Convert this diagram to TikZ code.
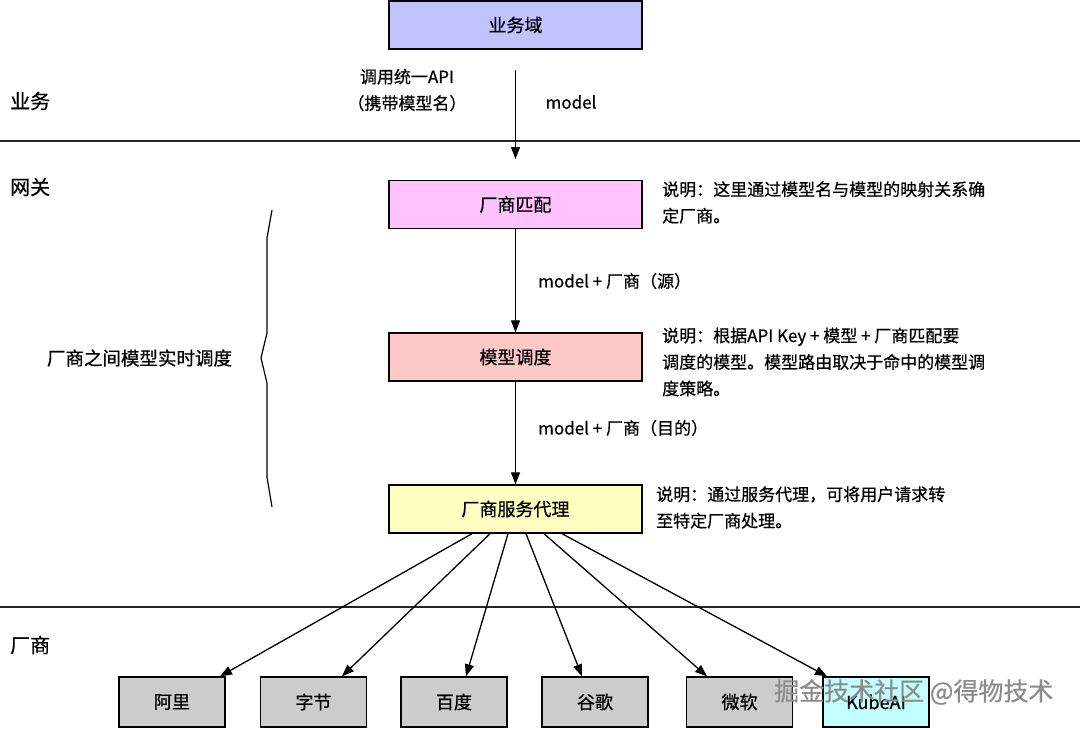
\documentclass[tikz,border=0pt]{standalone}
\usepackage{fontspec}
\setmainfont{Noto Sans CJK SC}[FakeBold=0.6]
\usetikzlibrary{arrows.meta}
\definecolor{cbiz}{RGB}{194,194,255}
\definecolor{cmatch}{RGB}{255,194,255}
\definecolor{csched}{RGB}{255,200,200}
\definecolor{cproxy}{RGB}{255,255,194}
\definecolor{cgray}{RGB}{204,204,204}
\definecolor{ccyan}{RGB}{194,255,255}
\begin{document}
\begin{tikzpicture}[x=1pt,y=-1pt,
  box/.style={draw=black,line width=1.4pt,minimum width=253pt,minimum height=48pt,inner sep=0pt,font=\fontsize{18}{22}\selectfont},
  vbox/.style={draw=black,line width=1.4pt,minimum width=106pt,minimum height=50pt,inner sep=0pt,fill=cgray,font=\fontsize{18}{22}\selectfont},
  lab/.style={font=\fontsize{17}{26.5}\selectfont,inner sep=0pt,align=left},
  sec/.style={font=\fontsize{20}{24}\selectfont,inner sep=0pt,anchor=west},
  arr/.style={-{Triangle[length=12pt,width=9pt]},line width=1.3pt},
  rulel/.style={line width=1.3pt,draw=black!85}]
\useasboundingbox (0,0) rectangle (1080,729);
% section rules
\coordinate (r1l) at (0,141); \coordinate (r1r) at (1080,141);
\coordinate (r2l) at (0,607); \coordinate (r2r) at (1080,607);
\draw[rulel] (r1l) -- (r1r);
\draw[rulel] (r2l) -- (r2r);
% section labels
\node[sec] (sbiz) at (10,101) {业务};
\node[sec] (sgw) at (10,187) {网关};
\node[sec] (svendor) at (10,645) {厂商};
% main boxes
\node[box,fill=cbiz] (biz) at (515.5,25) {业务域};
\node[box,fill=cmatch] (match) at (515.5,204.5) {厂商匹配};
\node[box,fill=csched] (sched) at (515.5,357) {模型调度};
\node[box,fill=cproxy] (proxy) at (515.5,509) {厂商服务代理};
% arrows
\coordinate (a0s) at (515.5,70);
\coordinate (a0e) at (515.5,159);
\draw[arr] (a0s) -- (a0e);
\draw[arr] (match) -- (sched);
\draw[arr] (sched) -- (proxy);
% arrow labels
\node[lab,align=center] (l1) at (407,90) {调用统一API\\（携带模型名）};
\node[lab] (l2) at (571,102) {model};
\node[lab,anchor=west] (l3) at (538,281) {model + 厂商（源）};
\node[lab,anchor=west] (l4) at (538,428) {model + 厂商（目的）};
% notes
\node[lab,anchor=west] (n1) at (662,202.5) {说明：这里通过模型名与模型的映射关系确\\定厂商。};
\node[lab,anchor=west] (n2) at (662,362) {说明：根据API Key + 模型 + 厂商匹配要\\调度的模型。模型路由取决于命中的模型调\\度策略。};
\node[lab,anchor=west] (n3) at (656,507.5) {说明：通过服务代理，可将用户请求转\\至特定厂商处理。};
% brace
\draw[line width=1.2pt,line join=miter] (272,210) -- (267,238) -- (267,333) -- (261,358) -- (267,383) -- (267,477) -- (272,507);
\node[font=\fontsize{18.5}{22}\selectfont,inner sep=0pt] (bl) at (139.5,358) {厂商之间模型实时调度};
% vendor boxes
\node[vbox] (ali) at (172,702) {阿里};
\node[vbox] (zj) at (313.5,702) {字节};
\node[vbox] (bd) at (454,702) {百度};
\node[vbox] (gg) at (595,702) {谷歌};
\node[vbox] (ms) at (739.5,702) {微软};
\node[vbox,fill=ccyan] (kube) at (876,702) {KubeAI};
% fan arrows
\draw[arr] ([xshift=-43.5pt]proxy.south) -- ([xshift=48pt]ali.north);
\draw[arr] ([xshift=-25.5pt]proxy.south) -- ([xshift=28.5pt]zj.north);
\draw[arr] ([xshift=-7.5pt]proxy.south) -- ([xshift=12pt]bd.north);
\draw[arr] ([xshift=10.5pt]proxy.south) -- ([xshift=-13pt]gg.north);
\draw[arr] ([xshift=28.5pt]proxy.south) -- ([xshift=-32.5pt]ms.north);
\draw[arr] ([xshift=46.5pt]proxy.south) -- ([xshift=-49pt]kube.north);
% watermark
\node[font=\fontsize{25}{28}\selectfont,text=black!45,inner sep=0pt,anchor=west] (wm) at (774,692) {掘金技术社区 @得物技术};
\end{tikzpicture}
\end{document}
